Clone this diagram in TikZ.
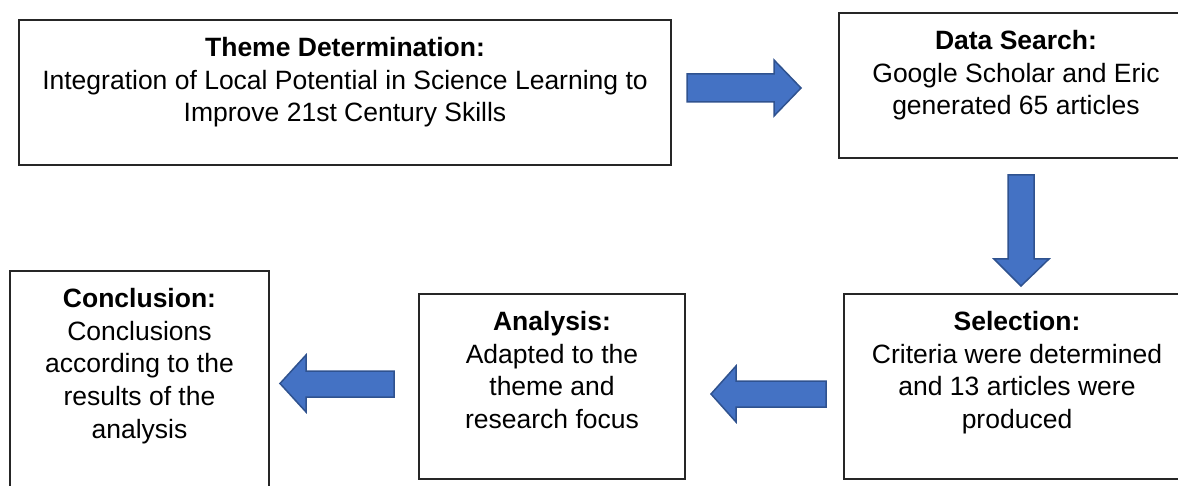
\documentclass[tikz,border=0pt]{standalone}
\usepackage{fontspec}
\setmainfont{Liberation Sans}
\begin{document}
\begin{tikzpicture}[x=1pt, y=-1pt,
  stepbox/.style={draw=black!85, line width=1.4pt, rectangle, inner sep=0pt},
  boxtext/.style={anchor=north, align=center, inner sep=0pt,
    font=\fontsize{26.5}{32.8}\selectfont},
  blockarrow/.style={fill=arrowfill, draw=arrowedge, line width=1.5pt, line join=miter}]
\definecolor{arrowfill}{HTML}{4472C4}
\definecolor{arrowedge}{HTML}{2F528F}
\clip (0,0) rectangle (1178,486);

% process boxes
\node[stepbox, minimum width=652pt, minimum height=145pt] (theme) at (345,92.5) {};
\node[stepbox, minimum width=354pt, minimum height=145pt] (search) at (1016,85.5) {};
\node[stepbox, minimum width=346pt, minimum height=185pt] (select) at (1017,386.5) {};
\node[stepbox, minimum width=266pt, minimum height=185pt] (analysis) at (552,386.5) {};
\node[stepbox, minimum width=259pt, minimum height=229pt] (concl) at (139.5,385.5) {};

% box texts
\node[boxtext] (themetxt) at ([yshift=-17.5pt]theme.north)
  {\textbf{Theme Determination:}\\Integration of Local Potential in Science Learning to\\Improve 21st Century Skills};
\node[boxtext] (searchtxt) at ([yshift=-17.5pt]search.north)
  {\textbf{Data Search:}\\Google Scholar and Eric\\generated 65 articles};
\node[boxtext] (selecttxt) at ([yshift=-17.5pt]select.north)
  {\textbf{Selection:}\\Criteria were determined\\and 13 articles were\\produced};
\node[boxtext] (analysistxt) at ([yshift=-17.5pt]analysis.north)
  {\textbf{Analysis:}\\Adapted to the\\theme and\\research focus};
\node[boxtext] (concltxt) at ([yshift=-17.5pt]concl.north)
  {\textbf{Conclusion:}\\Conclusions\\according to the\\results of the\\analysis};

% block arrows between the steps
\draw[blockarrow] (687,74) -- (774,74) -- (774,60) -- (801,88) -- (774,116) -- (774,102) -- (687,102) -- cycle;
\draw[blockarrow] (1008,175) -- (1034,175) -- (1034,259) -- (1049,259) -- (1021,286) -- (994,259) -- (1008,259) -- cycle;
\draw[blockarrow] (826,381) -- (736,381) -- (736,366) -- (711,394) -- (736,422) -- (736,407) -- (826,407) -- cycle;
\draw[blockarrow] (394,371) -- (306,371) -- (306,355) -- (280,383.5) -- (306,412) -- (306,397) -- (394,397) -- cycle;
\end{tikzpicture}
\end{document}
